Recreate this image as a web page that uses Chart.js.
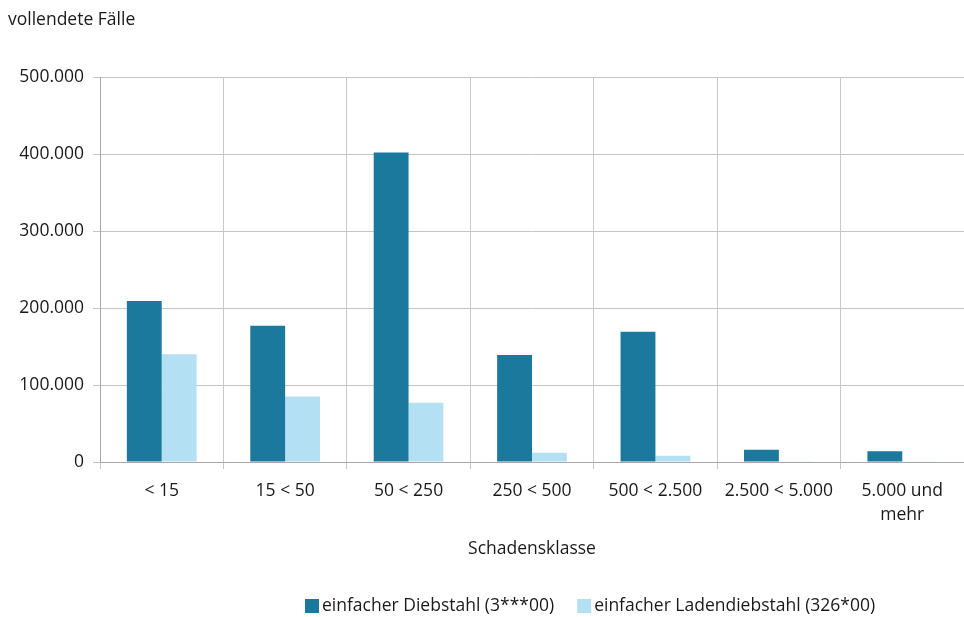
<!DOCTYPE html>
<html><head><meta charset="utf-8">
<script src="https://cdn.jsdelivr.net/npm/chart.js@4/dist/chart.umd.min.js"></script>
<style>html,body{margin:0;padding:0;background:#fff}#w{width:964px;height:617px}</style>
</head><body><div id="w"><canvas id="c"></canvas></div>
<script>
const categories = ["< 15", "15 < 50", "50 < 250", "250 < 500", "500 < 2.500", "2.500 < 5.000", ["5.000 und", "mehr"]];
const seriesNames = ["einfacher Diebstahl (3***00)", "einfacher Ladendiebstahl (326*00)"];
const diebstahl = [209000, 177000, 402000, 139000, 169000, 16000, 14000];
const ladendiebstahl = [140000, 85000, 77000, 12000, 8000, 400, 300];
const yTicks = [0, 100000, 200000, 300000, 400000, 500000];
const yTitle = "vollendete Fälle";
const xTitle = "Schadensklasse";

const FONT = "'Open Sans', sans-serif";
const FS = 17.5;
const colors = ["#1b799e", "#b3e1f3"];

const extras = {
  id: 'extras',
  afterDraw(chart) {
    const ctx = chart.ctx;
    ctx.save();
    ctx.fillStyle = '#1a1a1a';
    ctx.font = FS + "px " + FONT;
    ctx.textBaseline = 'middle';
    ctx.textAlign = 'left';
    ctx.fillText(yTitle, 8, 20);
    let x = 305;
    const y = 606;
    chart.data.datasets.forEach((ds, i) => {
      ctx.fillStyle = ds.backgroundColor;
      ctx.fillRect(x, y - 7, 14, 14);
      ctx.fillStyle = '#1a1a1a';
      ctx.fillText(ds.label, x + 17, y);
      x += 17 + ctx.measureText(ds.label).width + 23;
    });
    ctx.restore();
  }
};

new Chart(document.getElementById('c'), {
  type: 'bar',
  data: {
    labels: categories,
    datasets: [
      { label: seriesNames[0], data: diebstahl, backgroundColor: colors[0] },
      { label: seriesNames[1], data: ladendiebstahl, backgroundColor: colors[1] }
    ]
  },
  options: {
    responsive: true,
    maintainAspectRatio: false,
    animation: false,
    layout: { padding: { top: 77, bottom: 56, left: 0, right: -3 } },
    datasets: { bar: { categoryPercentage: 0.565, barPercentage: 1.0 } },
    plugins: { legend: { display: false }, title: { display: false }, tooltip: { enabled: false } },
    scales: {
      x: {
        grid: { color: '#c8c8c8', tickLength: 7, offset: true, drawTicks: true },
        border: { color: '#a8a8a8' },
        ticks: { color: '#1a1a1a', font: { family: FONT, size: FS, lineHeight: 1.37 }, padding: 10, maxRotation: 0, autoSkip: false },
        title: { display: true, text: xTitle, color: '#1a1a1a', font: { family: FONT, size: FS }, padding: { top: 4, bottom: 1 } },
        afterFit(s) { s.height = 99; }
      },
      y: {
        min: 0, max: 500000,
        afterBuildTicks(s) { s.ticks = yTicks.map(v => ({ value: v })); },
        grid: { color: '#c4c4c4', tickLength: 7 },
        border: { color: '#a8a8a8' },
        ticks: {
          color: '#1a1a1a', font: { family: FONT, size: FS }, padding: 9,
          callback: v => v.toLocaleString('de-DE')
        },
        afterFit(s) { s.width = 100; }
      }
    }
  },
  plugins: [extras]
});
</script>
</body></html>
